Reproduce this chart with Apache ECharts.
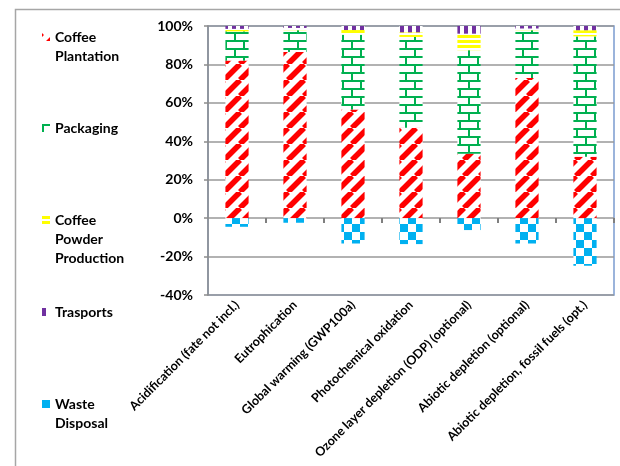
<!DOCTYPE html>
<html>
<head>
<meta charset="utf-8">
<script src="https://cdn.jsdelivr.net/npm/echarts@6/dist/echarts.min.js"></script>
<style>
  html, body { margin: 0; padding: 0; background: #fff; }
  #chart { width: 620px; height: 466px; }
</style>
</head>
<body>
<div id="chart"></div>
<script>
// Impact categories (x axis)
const categories = [
  'Acidification (fate not incl.)',
  'Eutrophication',
  'Global warming (GWP100a)',
  'Photochemical oxidation',
  'Ozone layer depletion (ODP) (optional)',
  'Abiotic depletion (optional)',
  'Abiotic depletion, fossil fuels (opt.)'
];

// Contribution of each life-cycle phase, in percent
const coffeePlantation       = [82.0, 86.5, 56.5, 47.0, 33.5, 73.0, 32.0];
const packaging              = [15.2, 11.3, 39.0, 47.3, 53.9, 24.8, 62.6];
const coffeePowderProduction = [1.3, 1.2, 2.4, 2.4, 8.6, 0.9, 3.2];
const trasports              = [1.5, 1.0, 2.1, 3.3, 4.0, 1.3, 2.2];
const wasteDisposal          = [-4.5, -2.4, -13.2, -13.5, -6.2, -13.2, -24.8];

// Y axis tick range
const yTicks = { min: -40, max: 100, step: 20 };

const seriesNames = ['Coffee Plantation', 'Packaging', 'Coffee Powder Production', 'Trasports', 'Waste Disposal'];
const seriesValues = [coffeePlantation, packaging, coffeePowderProduction, trasports, wasteDisposal];

// Small canvas tiles used as repeating fill patterns
function makePattern(w, h, draw) {
  const c = document.createElement('canvas');
  c.width = w; c.height = h;
  const ctx = c.getContext('2d');
  ctx.fillStyle = '#ffffff';
  ctx.fillRect(0, 0, w, h);
  draw(ctx, w, h);
  return { image: c, repeat: 'repeat' };
}

const patterns = [
  // wide upward diagonal, red
  makePattern(16, 16, (ctx, s) => {
    ctx.strokeStyle = '#FF0000';
    ctx.lineWidth = 5.6;
    ctx.beginPath();
    for (let k = -1; k <= 1; k++) {
      ctx.moveTo(k * s, s);
      ctx.lineTo(k * s + s, 0);
    }
    ctx.stroke();
  }),
  // brick, green
  makePattern(18, 16, (ctx) => {
    ctx.fillStyle = '#00B050';
    ctx.fillRect(0, 0, 18, 2);
    ctx.fillRect(0, 8, 18, 2);
    ctx.fillRect(0, 2, 2, 6);
    ctx.fillRect(9, 10, 2, 6);
  }),
  // horizontal lines, yellow
  makePattern(4, 5, (ctx) => {
    ctx.fillStyle = '#FFFF00';
    ctx.fillRect(0, 0, 4, 3);
  }),
  // wide vertical lines, purple
  makePattern(8, 4, (ctx) => {
    ctx.fillStyle = '#7030A0';
    ctx.fillRect(0, 0, 4, 4);
  }),
  // large checkerboard, blue
  makePattern(16, 16, (ctx) => {
    ctx.fillStyle = '#00B0F0';
    ctx.fillRect(0, 0, 8, 8);
    ctx.fillRect(8, 8, 8, 8);
  })
];

const FONT = 'Lato, "Open Sans", sans-serif';
const LINE_H = 19;
const AXIS_GREY = '#8c8c8c';

// One legend block per series down the left side. Blank lines are
// prepended so that the first word sits level with the icon.
const legendFirstLine = [37, 128, 220, 312, 404];
const legends = seriesNames.map((name, i) => {
  const lines = name.split(' ').length;
  return {
    data: [name],
    left: 42,
    top: legendFirstLine[i] - (2 * lines - 1) * LINE_H / 2,
    orient: 'vertical',
    padding: 0,
    icon: 'rect',
    itemWidth: 8,
    itemHeight: 8,
    itemGap: 0,
    selectedMode: false,
    formatter: (n) => {
      const words = n.split(' ');
      return new Array(words.length - 1).fill(' ').concat(words).join('\n');
    },
    textStyle: {
      fontFamily: FONT,
      fontWeight: 'bold',
      fontSize: 14,
      lineHeight: LINE_H,
      color: '#000'
    }
  };
});

const series = seriesNames.map((name, i) => ({
  name: name,
  type: 'bar',
  stack: 'total',
  barCategoryGap: '60%',
  data: seriesValues[i],
  itemStyle: { color: patterns[i] },
  emphasis: { disabled: true }
}));

// Short tick marks hanging below the 0% line at each category boundary
series.push({
  type: 'custom',
  silent: true,
  clip: false,
  z: 10,
  data: categories.map((c, i) => [i, 0]),
  renderItem: (params, api) => {
    const p = api.coord([api.value(0), 0]);
    const half = api.size([1, 0])[0] / 2;
    const x = Math.round(p[0] + half);
    const y = Math.round(p[1]);
    return {
      type: 'rect',
      shape: { x: x - 1, y: y, width: 2, height: 5 },
      style: { fill: '#7f7f7f' }
    };
  }
});

const chart = echarts.init(document.getElementById('chart'), null, { renderer: 'canvas' });
chart.setOption({
  backgroundColor: '#ffffff',
  animation: false,
  graphic: [{
    type: 'rect',
    silent: true,
    z: -10,
    shape: { x: 15.5, y: 9.5, width: 700, height: 600 },
    style: { fill: 'none', stroke: '#a6a6a6', lineWidth: 1.5 }
  }],
  legend: legends,
  grid: {
    left: 208, right: 6, top: 26, bottom: 171,
    show: true,
    borderColor: '#7b9ccf',
    borderWidth: 1.5,
    backgroundColor: 'transparent'
  },
  xAxis: {
    type: 'category',
    data: categories,
    position: 'bottom',
    axisLine: { show: false, onZero: false },
    axisTick: { show: false },
    axisLabel: {
      interval: 0,
      rotate: 45,
      margin: 8,
      fontFamily: FONT,
      fontWeight: 'bold',
      fontSize: 12.5,
      color: '#000'
    }
  },
  yAxis: {
    type: 'value',
    min: yTicks.min,
    max: yTicks.max,
    interval: yTicks.step,
    axisLine: { show: true, onZero: false, lineStyle: { color: AXIS_GREY, width: 1.5 } },
    axisTick: { show: true, length: 4, lineStyle: { color: AXIS_GREY, width: 1.5 } },
    splitLine: { lineStyle: { color: '#999999', width: 1.5 } },
    axisLabel: {
      formatter: '{value}%',
      margin: 15,
      fontFamily: FONT,
      fontWeight: 'bold',
      fontSize: 14,
      color: '#000'
    }
  },
  series: series
});
</script>
</body>
</html>
